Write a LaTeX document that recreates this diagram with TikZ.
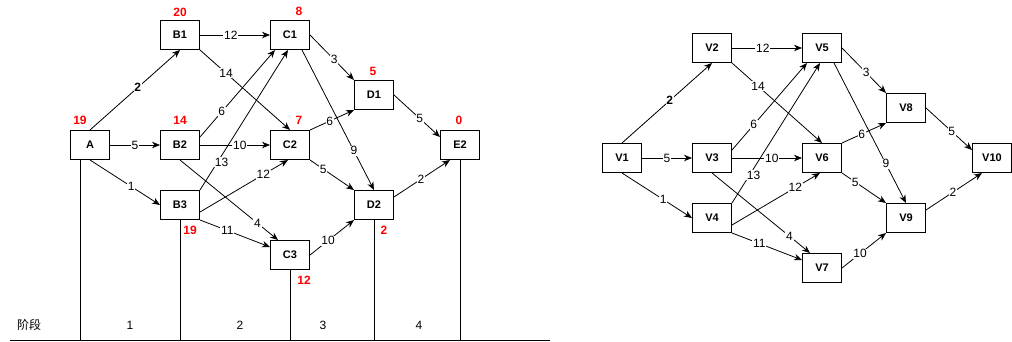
\documentclass[tikz,border=0pt]{standalone}
\usepackage{fontspec}
\setmainfont{Liberation Sans}
\newfontfamily\cjk{Noto Sans CJK SC}
\usetikzlibrary{arrows.meta}
\begin{document}
\begin{tikzpicture}[x=1pt,y=-1pt,
  box/.style={draw,line width=0.8pt,minimum width=39.2pt,minimum height=29.2pt,inner sep=0pt,font=\fontsize{11}{13}\selectfont\bfseries},
  wt/.style={fill=white,inner sep=0.8pt,font=\fontsize{12}{14}\selectfont},
  cost/.style={text=red,font=\fontsize{12}{14}\selectfont\bfseries,inner sep=0pt},
  arc/.style={line width=0.8pt,-{Stealth[length=8pt,width=6.5pt,inset=2.5pt]}},
  stage/.style={line width=0.8pt},
  stagetxt/.style={font=\fontsize{12}{14}\selectfont,inner sep=0pt}]
\useasboundingbox (0,0) rectangle (1012,342);
% left graph
\node[box] (LA)  at (90,145)  {A};
\node[box] (LB1) at (180,35)  {B1};
\node[box] (LB2) at (180,145) {B2};
\node[box] (LB3) at (180,205) {B3};
\node[box] (LC1) at (290,35)  {C1};
\node[box] (LC2) at (290,145) {C2};
\node[box] (LC3) at (290,255) {C3};
\node[box] (LD1) at (374,95)  {D1};
\node[box] (LD2) at (374,205) {D2};
\node[box] (LE2) at (460,145) {E2};
% right graph
\node[box] (RA)  at (622,158) {V1};
\node[box] (RB1) at (712,48)  {V2};
\node[box] (RB2) at (712,158) {V3};
\node[box] (RB3) at (712,218) {V4};
\node[box] (RC1) at (822,48)  {V5};
\node[box] (RC2) at (822,158) {V6};
\node[box] (RC3) at (822,268) {V7};
\node[box] (RD1) at (906,108) {V8};
\node[box] (RD2) at (906,218) {V9};
\node[box] (RE2) at (992,158) {V10};
% edges
\foreach \p in {L,R}{
  \draw[arc] (\p A.north) -- node[wt,pos=0.53,font=\fontsize{12}{14}\selectfont\bfseries]{2} (\p B1.south);
  \draw[arc] (\p A.east) -- node[wt,pos=0.5]{5} (\p B2.west);
  \draw[arc] (\p A.south) -- node[wt,pos=0.59]{1} (\p B3.west);
  \draw[arc] (\p B1.east) -- node[wt,pos=0.44]{12} (\p C1.west);
  \draw[arc] (\p B1.south east) -- node[wt,pos=0.29]{14} (\p C2.north);
  \draw[arc] ([yshift=8pt]\p B2.east) -- node[wt,pos=0.29]{6} ([xshift=-15pt]\p C1.south);
  \draw[arc] (\p B2.east) -- node[wt,pos=0.57]{10} (\p C2.west);
  \draw[arc] (\p B2.south) -- node[wt,pos=0.79]{4} ([xshift=-12pt]\p C3.north);
  \draw[arc] (\p B3.north east) -- node[wt,pos=0.2,xshift=4pt]{13} ([xshift=-2pt]\p C1.south);
  \draw[arc] ([yshift=-7pt]\p B3.east) -- node[wt,pos=0.72]{12} ([xshift=-2pt]\p C2.south);
  \draw[arc] (\p B3.south east) -- node[wt,pos=0.39]{11} ([yshift=8pt]\p C3.west);
  \draw[arc] (\p C1.east) -- node[wt,pos=0.55]{3} (\p D1.north west);
  \draw[arc] ([xshift=12pt]\p C1.south) -- node[wt,pos=0.72]{9} (\p D2.north);
  \draw[arc] (\p C2.north east) -- node[wt,pos=0.45]{6} (\p D1.south west);
  \draw[arc] (\p C2.south east) -- node[wt,pos=0.3]{5} (\p D2.north west);
  \draw[arc] (\p C3.east) -- node[wt,pos=0.41]{10} (\p D2.south west);
  \draw[arc] (\p D1.east) -- node[wt,pos=0.56]{5} ([yshift=8pt]\p E2.west);
  \draw[arc] ([yshift=8pt]\p D2.east) -- node[wt,pos=0.48]{2} ([xshift=-10pt]\p E2.south);
}
% costs
\node[cost] (cA)  at (80,120)  {19};
\node[cost] (cB1) at (180,12)  {20};
\node[cost] (cB2) at (180,120) {14};
\node[cost] (cB3) at (190,230) {19};
\node[cost] (cC1) at (299,11)  {8};
\node[cost] (cC2) at (299,120) {7};
\node[cost] (cC3) at (304,280) {12};
\node[cost] (cD1) at (373,71)  {5};
\node[cost] (cD2) at (384,230) {2};
\node[cost] (cE2) at (459,120) {0};
% stages
\coordinate (g0) at (10,340);
\coordinate (g1) at (550,340);
\coordinate (aS) at ([xshift=-10pt]LA.south);
\draw[stage] (g0) -- (g1);
\draw[stage] (aS) -- (aS |- g0);
\draw[stage] (LB3.south) -- (LB3.south |- g0);
\draw[stage] (LC3.south) -- (LC3.south |- g0);
\draw[stage] (LD2.south) -- (LD2.south |- g0);
\draw[stage] (LE2.south) -- (LE2.south |- g0);
\node[stagetxt] (s0) at (29,325) {\cjk 阶段};
\node[stagetxt] (s1) at (130,325) {1};
\node[stagetxt] (s2) at (240,325) {2};
\node[stagetxt] (s3) at (323,325) {3};
\node[stagetxt] (s4) at (419,325) {4};
\end{tikzpicture}
\end{document}
